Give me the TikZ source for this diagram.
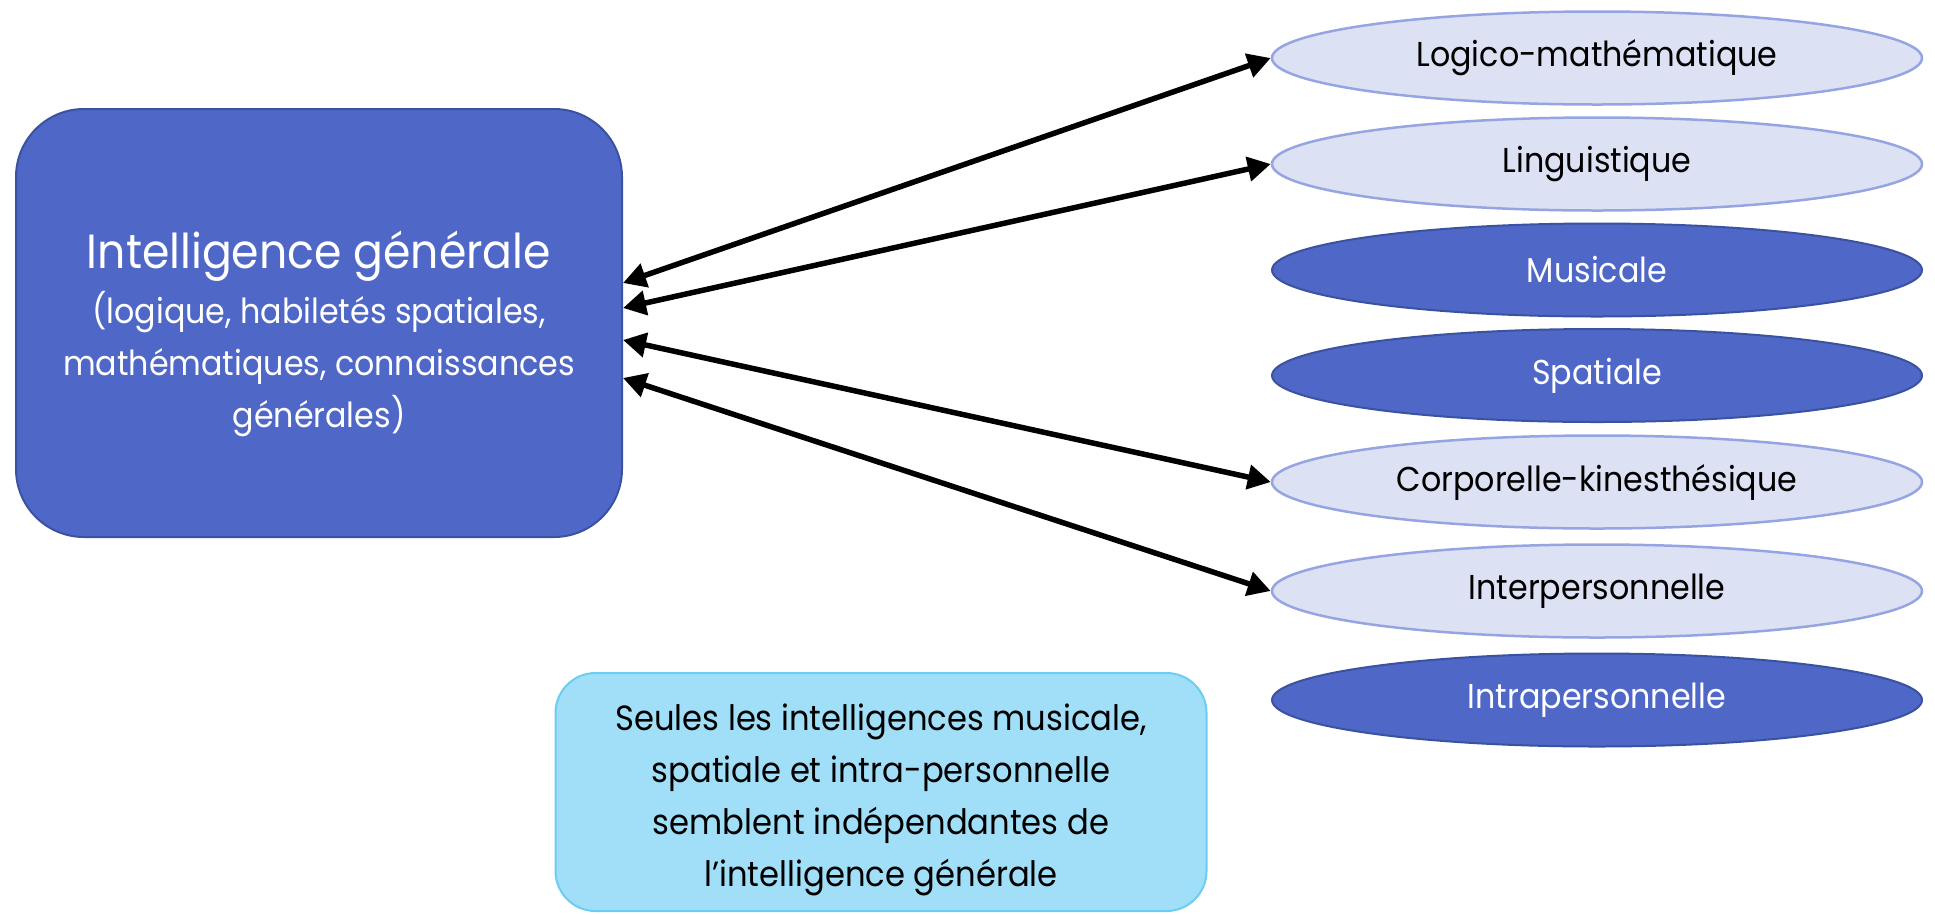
\documentclass[tikz,border=0pt]{standalone}
\usepackage{fontspec}
\setmainfont{Poppins}[FakeStretch=0.92]
\usetikzlibrary{shapes.geometric,arrows.meta}
\definecolor{dblue}{HTML}{4F67C7}
\definecolor{dblueline}{HTML}{3A529F}
\definecolor{lblue}{HTML}{DDE1F4}
\definecolor{lblueline}{HTML}{95A5E2}
\definecolor{cyanfill}{HTML}{A0DFF7}
\definecolor{cyanline}{HTML}{6BCDF0}
\tikzset{
  mainbox/.style={draw=dblueline, line width=2pt, fill=dblue, rounded corners=68pt,
    minimum width=606pt, minimum height=428pt, text=white, align=center, inner sep=0pt,
    font=\fontsize{34.5}{52}\selectfont},
  lightell/.style={ellipse, draw=lblueline, line width=2.5pt, fill=lblue,
    minimum width=650pt, minimum height=93pt, inner sep=0pt, font=\fontsize{34.5}{40}\selectfont},
  darkell/.style={ellipse, draw=dblueline, line width=2pt, fill=dblue, text=white,
    minimum width=650pt, minimum height=93pt, inner sep=0pt, font=\fontsize{34.5}{40}\selectfont},
  notebox/.style={draw=cyanline, line width=2pt, fill=cyanfill, rounded corners=40pt,
    minimum width=651pt, minimum height=238pt, align=center, inner sep=0pt,
    font=\fontsize{35}{52}\selectfont},
  conn/.style={line width=5.5pt, {Triangle[length=23pt,width=24pt]}-{Triangle[length=23pt,width=24pt]}}
}
\begin{document}
\begin{tikzpicture}[x=1pt,y=-1pt]
\useasboundingbox (0,0) rectangle (1935,914);
\node[mainbox] (gen) at (319,323) {\rule{0pt}{60pt}{\fontsize{48}{53}\selectfont Intelligence générale}\\[3pt]
  (logique, habiletés spatiales,\\
  mathématiques, connaissances\\
  générales)};
\node[lightell] (logico) at (1597,58) {Logico-mathématique};
\node[lightell] (ling) at (1597,164) {Linguistique};
\node[darkell] (music) at (1597,270) {Musicale};
\node[darkell] (spat) at (1597,375.5) {Spatiale};
\node[lightell] (corp) at (1597,482) {Corporelle-kinesthésique};
\node[lightell] (inter) at (1597,591) {Interpersonnelle};
\node[darkell] (intra) at (1597,700) {Intrapersonnelle};
\node[notebox] (note) at (881,792) {\rule{0pt}{42pt}Seules les intelligences musicale,\\
  spatiale et intra-personnelle\\
  semblent indépendantes de\\
  l’intelligence générale};
\coordinate (p1) at ([yshift=40pt]gen.east);
\coordinate (p2) at ([yshift=15pt]gen.east);
\coordinate (p3) at ([yshift=-17pt]gen.east);
\coordinate (p4) at ([yshift=-55pt]gen.east);
\draw[conn] (p1) -- (logico.west);
\draw[conn] (p2) -- (ling.west);
\draw[conn] (p3) -- (corp.west);
\draw[conn] (p4) -- (inter.west);
\end{tikzpicture}
\end{document}
